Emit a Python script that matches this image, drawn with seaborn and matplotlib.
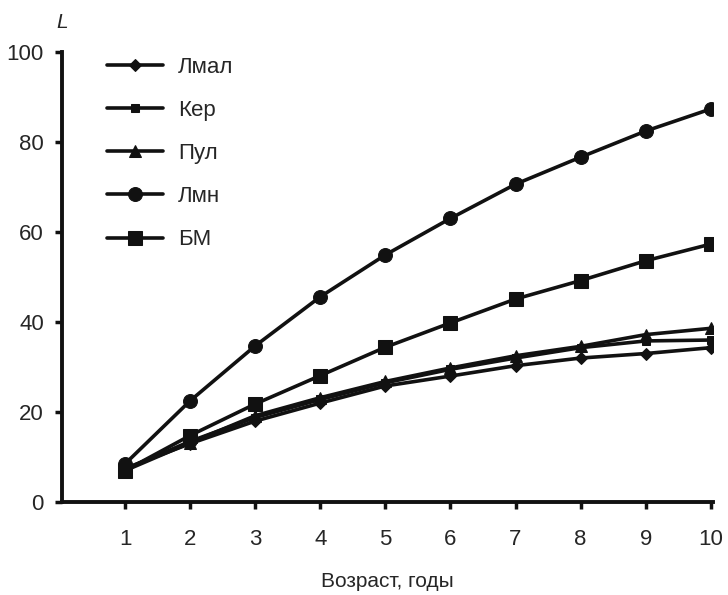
import pandas as pd
import seaborn as sns
import matplotlib.pyplot as plt

# возраст, годы
age = [1, 2, 3, 4, 5, 6, 7, 8, 9, 10]

# длина L по популяциям
lmal = [7.5, 13.0, 18.0, 22.0, 25.8, 28.0, 30.3, 32.0, 33.0, 34.3]
ker = [7.3, 13.5, 18.8, 22.8, 26.5, 29.5, 32.0, 34.3, 35.8, 36.0]
pul = [7.0, 13.2, 19.2, 23.2, 26.8, 29.8, 32.5, 34.6, 37.2, 38.6]
lmn = [8.5, 22.5, 34.7, 45.6, 54.9, 63.0, 70.6, 76.6, 82.4, 87.3]
bm = [7.0, 14.8, 21.8, 28.1, 34.4, 39.8, 45.1, 49.2, 53.6, 57.3]

names = ['Лмал', 'Кер', 'Пул', 'Лмн', 'БМ']
series = [lmal, ker, pul, lmn, bm]
markers = ['D', 's', '^', 'o', 's']
msizes = [6, 6, 8, 10, 9.5]

df = pd.DataFrame({
    'age': age * len(names),
    'L': [v for s in series for v in s],
    'pop': [n for n in names for _ in age],
})

sns.set_style('ticks')
plt.rcParams['font.family'] = ['Liberation Sans', 'DejaVu Sans']

fig = plt.figure(figsize=(7.28, 5.95), dpi=100)
ax = fig.add_axes([0.085, 0.156, 0.894, 0.757])

for name, mk, ms in zip(names, markers, msizes):
    sns.lineplot(data=df[df['pop'] == name], x='age', y='L', ax=ax,
                 color='#111111', linewidth=2.6, marker=mk, markersize=ms,
                 markeredgecolor='#111111', label=name)

ax.set_xlim(0.03, 10.03)
ax.set_ylim(0, 100)
ax.set_xticks(age)
ax.set_yticks([0, 20, 40, 60, 80, 100])
ax.tick_params(axis='both', labelsize=16, width=2.5, length=5, color='#111111', pad=8)
ax.tick_params(axis='x', pad=14)
for sp in ['left', 'bottom']:
    ax.spines[sp].set_linewidth(2.8)
    ax.spines[sp].set_color('#111111')
sns.despine(ax=ax)

ax.set_xlabel('Возраст, годы', fontsize=15, labelpad=16)
ax.set_ylabel('')
fig.text(0.085, 0.962, 'L', fontsize=15, style='italic', ha='center', va='center')

ax.legend(loc='upper left', bbox_to_anchor=(0.147, 0.905), bbox_transform=fig.transFigure,
          frameon=False, fontsize=16, handlelength=2.5, labelspacing=1.0,
          handletextpad=0.7, borderpad=0, borderaxespad=0)

fig.savefig('out.png', dpi=100)
